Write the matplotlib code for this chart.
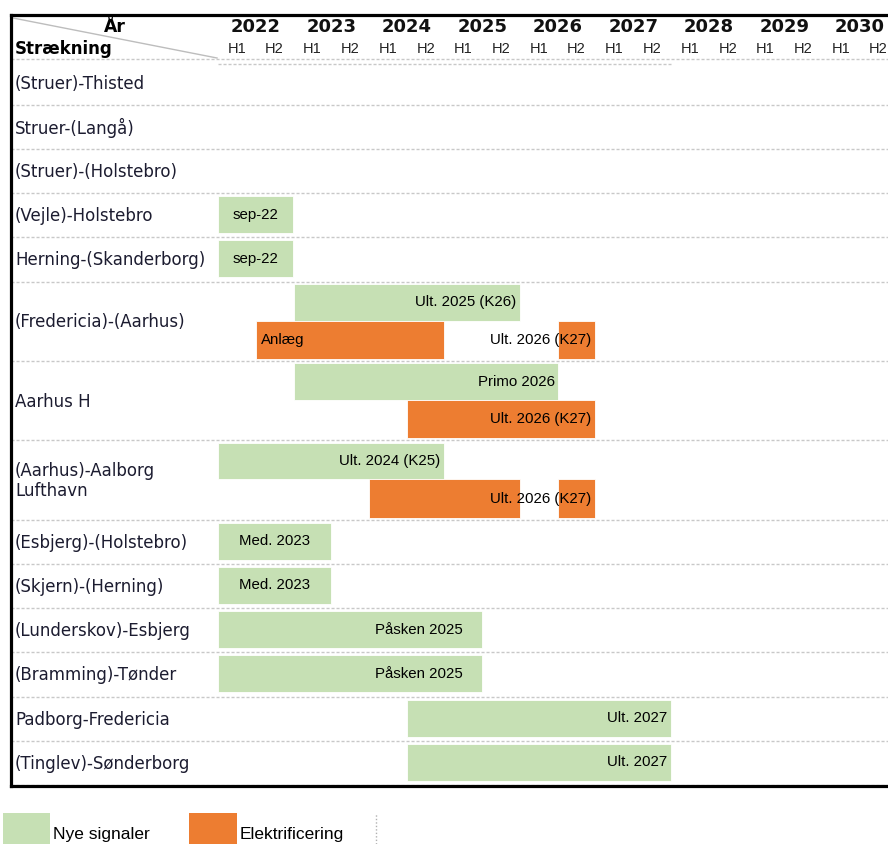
import matplotlib
matplotlib.use("Agg")
import matplotlib.pyplot as plt
from matplotlib.patches import Rectangle
from matplotlib.lines import Line2D

# ---------------- data ----------------
rows = ["(Struer)-Thisted", "Struer-(Langå)", "(Struer)-(Holstebro)",
        "(Vejle)-Holstebro", "Herning-(Skanderborg)", "(Fredericia)-(Aarhus)",
        "Aarhus H", "(Aarhus)-Aalborg\nLufthavn", "(Esbjerg)-(Holstebro)",
        "(Skjern)-(Herning)", "(Lunderskov)-Esbjerg", "(Bramming)-Tønder",
        "Padborg-Fredericia", "(Tinglev)-Sønderborg"]
row_double = [False, False, False, False, False, True, True, True,
              False, False, False, False, False, False]

years = [2022, 2023, 2024, 2025, 2026, 2027, 2028, 2029, 2030]
halves = ["H1", "H2"]

series_names = ["Nye signaler", "Elektrificering"]

# Nye signaler
sig_row = [3, 4, 5, 6, 7, 8, 9, 10, 11, 12, 13]
sig_start = [2022.0, 2022.0, 2023.0, 2023.0, 2022.0, 2022.0, 2022.0, 2022.0, 2022.0, 2024.5, 2024.5]
sig_end = [2023.0, 2023.0, 2026.0, 2026.5, 2025.0, 2023.5, 2023.5, 2025.5, 2025.5, 2028.0, 2028.0]
sig_label = ["sep-22", "sep-22", "Ult. 2025 (K26)", "Primo 2026", "Ult. 2024 (K25)",
             "Med. 2023", "Med. 2023", "Påsken 2025", "Påsken 2025", "Ult. 2027", "Ult. 2027"]

# Elektrificering
el_row = [5, 5, 6, 7, 7]
el_start = [2022.5, 2026.5, 2024.5, 2024.0, 2026.5]
el_end = [2025.0, 2027.0, 2027.0, 2026.0, 2027.0]
el_label = ["Anlæg", "Ult. 2026 (K27)", "Ult. 2026 (K27)", "", "Ult. 2026 (K27)"]

# ---------------- styles ----------------
sig_align = ["center", "center", "right", "right", "right", "center", "center",
             "right", "right", "right", "right"]
sig_pad = [0, 0, 3, 2, 3, 0, 0, 14, 14, 3, 3]
el_align = ["left", "right", "right", "right", "right"]
el_pad = [4, 3, 3, 3, 3]

GREEN = "#C6E0B4"
ORANGE = "#ED7D31"
GRID = "#c8c8c8"

W, H = 888, 844
PX_PER_YEAR = 75.5
X_START_PX = 218
AX_L, AX_R, AX_T, AX_B = 11, 888, 15, 786

fig = plt.figure(figsize=(W / 100, H / 100), dpi=100)
ax = fig.add_axes([AX_L / W, (H - AX_B) / H, (AX_R - AX_L) / W, (AX_B - AX_T) / H])
x0 = years[0] - (X_START_PX - AX_L) / PX_PER_YEAR
x1 = years[0] + (AX_R - X_START_PX) / PX_PER_YEAR
ax.set_xlim(x0, x1)
total_h = AX_B - AX_T
ax.set_ylim(total_h, 0)
ax.set_xticks([])
ax.set_yticks([])
for s in ["left", "top", "bottom"]:
    ax.spines[s].set_linewidth(2.3)
    ax.spines[s].set_color("black")
ax.spines["right"].set_visible(False)

# row layout
header_h = 47
single_h = 44.2
double_h = 79.4
tops = []
y = header_h
for d in row_double:
    tops.append(y)
    y += double_h if d else single_h
bottoms = [t + (double_h if d else single_h) for t, d in zip(tops, row_double)]

dash = (0, (2.2, 1.4))
ax.plot([x0, x1], [header_h - 3, header_h - 3], color=GRID, lw=1, ls=dash)
ax.plot([years[0], 2028.0], [header_h + 1.5, header_h + 1.5], color=GRID, lw=1, ls=dash)
for b in bottoms:
    ax.plot([x0, x1], [b - 1.5, b - 1.5], color=GRID, lw=1, ls=dash)

# diagonal header line
ax.plot([x0 + 2 / PX_PER_YEAR, years[0] - 1 / PX_PER_YEAR], [3, 43], color="#bdbdbd", lw=1)

lab_font = "DejaVu Sans"
ax.text(x0 + 104 / PX_PER_YEAR, 12.5, "År", ha="center", va="center",
        fontsize=12.5, fontweight="bold", family=lab_font)
ax.text(x0 + 4 / PX_PER_YEAR, 34, "Strækning", ha="left", va="center",
        fontsize=12, fontweight="bold", family=lab_font)
for yr in years:
    ax.text(yr + 0.5, 12.5, str(yr), ha="center", va="center", fontsize=13,
            fontweight="bold", family=lab_font, color="#111111")
    for i, h in enumerate(halves):
        ax.text(yr + 0.25 + 0.5 * i, 34, h, ha="center", va="center", fontsize=10.5,
                family="Liberation Sans", color="#222222")

# row labels
for r, (name, t, b) in enumerate(zip(rows, tops, bottoms)):
    ax.text(x0 + 4 / PX_PER_YEAR, (t + b) / 2 - 0.5, name, ha="left", va="center",
            fontsize=12, family=lab_font, color="#1c1c30", linespacing=1.15)


def bar_y(r, sub):
    t = tops[r]
    if not row_double[r]:
        return t + 1.5, 37
    if sub == 0:
        return t + 1.0, 36.5
    return t + 37.5, 38.5


def draw(rs, st, en, labs, aligns, pads, color, sub):
    for r, s, e, lab, al, pd in zip(rs, st, en, labs, aligns, pads):
        yb, hh = bar_y(r, sub)
        ax.barh(yb, e - s, left=s, height=hh, align="edge", color=color,
                edgecolor="white", linewidth=0.6, zorder=2)
        if not lab:
            continue
        yc = yb + hh / 2
        if al == "center":
            xx, off = (s + e) / 2, 0
        elif al == "right":
            xx, off = e, -pd
        else:
            xx, off = s, pd
        ax.annotate(lab, (xx, yc), xytext=(off, 0), textcoords="offset points",
                    ha=al, va="center", fontsize=10.8, family="Liberation Sans",
                    color="black", zorder=4)


draw(sig_row, sig_start, sig_end, sig_label, sig_align, sig_pad, GREEN, 0)
draw(el_row, el_start, el_end, el_label, el_align, el_pad, ORANGE, 1)

# legend
leg_h = 31 / H
fig.add_artist(Rectangle((3 / W, 0), 47 / W, leg_h, transform=fig.transFigure,
                         facecolor=GREEN, edgecolor="none"))
fig.add_artist(Rectangle((189 / W, 0), 48 / W, leg_h, transform=fig.transFigure,
                         facecolor=ORANGE, edgecolor="none"))
fig.text(53 / W, 5.5 / H, series_names[0], ha="left", va="baseline", fontsize=12.5,
         family="Liberation Sans", color="black")
fig.text(240 / W, 5.5 / H, series_names[1], ha="left", va="baseline", fontsize=12.5,
         family="Liberation Sans", color="black")
fig.add_artist(Line2D([376 / W, 376 / W], [0, leg_h], transform=fig.transFigure,
                      color="#b0b0b0", lw=1, ls=(0, (1, 1.5))))

fig.savefig("out.png", dpi=100)
